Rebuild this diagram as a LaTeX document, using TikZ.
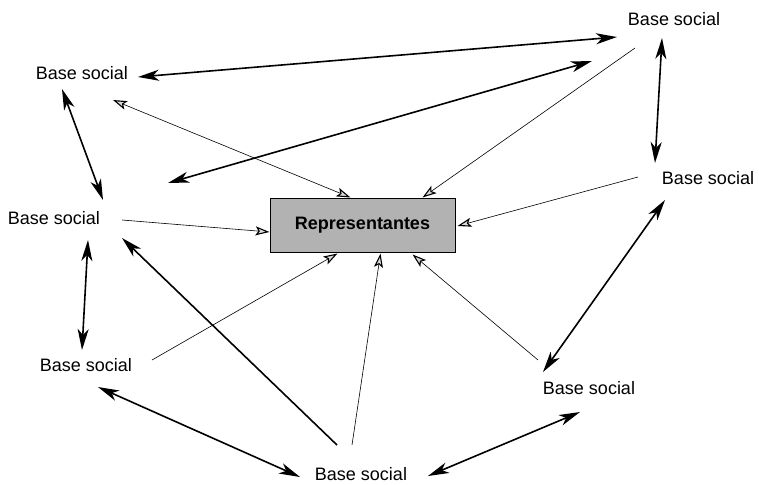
\documentclass[tikz,border=0pt]{standalone}
\usepackage{fontspec}
\setmainfont{Liberation Sans}
\usetikzlibrary{arrows.meta}
\tikzset{
  lbl/.style={inner sep=0pt, font=\fontsize{18}{20}\selectfont},
  repbox/.style={draw=black, line width=1pt, fill=black!30, minimum width=185pt, minimum height=54pt, inner sep=0pt, font=\fontsize{18}{22}\selectfont\bfseries},
  thick link/.style={line width=1.6pt, {Stealth[length=21pt,width=11pt,inset=6pt]}-{Stealth[length=21pt,width=11pt,inset=6pt]}},
  thick single/.style={line width=1.6pt, -{Stealth[length=21pt,width=11pt,inset=6pt]}},
  thin link/.style={line width=0.6pt, -{Stealth[open,length=14pt,width=9pt,inset=3pt,line width=1.1pt,fill=black!15]}},
  thin both/.style={line width=0.6pt, {Stealth[open,length=14pt,width=9pt,inset=3pt,line width=1.1pt,fill=black!15]}-{Stealth[open,length=14pt,width=9pt,inset=3pt,line width=1.1pt,fill=black!15]}}
}
\begin{document}
\begin{tikzpicture}[x=1pt,y=-1pt]
\useasboundingbox (0,0) rectangle (759,484);
% nodes
\node[repbox] (rep) at (362.5,225) {Representantes};
\node[lbl] (tl) at (82,73) {Base social};
\node[lbl] (tr) at (674,19) {Base social};
\node[lbl] (r) at (708,178) {Base social};
\node[lbl] (l) at (54,218) {Base social};
\node[lbl] (ll) at (86,365) {Base social};
\node[lbl] (lr) at (589,388) {Base social};
\node[lbl] (b) at (361,474) {Base social};
\coordinate (free) at (168,183);
% thick double links
\draw[thick link] ([shift={(56,4)}]tl.center) -- ([shift={(-57,18)}]tr.center);
\draw[thick link] (free) -- ([shift={(-82,42)}]tr.center);
\draw[thick link] ([shift={(-12,19)}]tr.center) -- ([shift={(-53,-15)}]r.center);
\draw[thick link] ([shift={(-20,16)}]tl.center) -- ([shift={(49,-18)}]l.center);
\draw[thick link] ([shift={(34,22)}]l.center) -- ([shift={(-4,-15)}]ll.center);
\draw[thick link] ([shift={(-43,22)}]r.center) -- ([shift={(-46,-16)}]lr.center);
\draw[thick link] ([shift={(12,22)}]ll.center) -- ([shift={(-61,3)}]b.center);
\draw[thick link] ([shift={(67,2)}]b.center) -- ([shift={(-9,24)}]lr.center);
\draw[thick single] ([shift={(-24,-29)}]b.center) -- ([shift={(68,20)}]l.center);
% thin links to representantes
\draw[thin both] ([shift={(31,27)}]tl.center) -- ([shift={(-12,0)}]rep.north);
\draw[thin link] ([shift={(-39,29)}]tr.center) -- ([shift={(60,0)}]rep.north);
\draw[thin link] ([shift={(-70,-1)}]r.center) -- ([shift={(2,1)}]rep.east);
\draw[thin link] ([shift={(68,2)}]l.center) -- ([shift={(0,7)}]rep.west);
\draw[thin link] ([shift={(66,-5)}]ll.center) -- ([shift={(-25,1)}]rep.south);
\draw[thin link] ([shift={(-9,-29)}]b.center) -- ([shift={(18,1)}]rep.south);
\draw[thin link] ([shift={(-51,-28)}]lr.center) -- ([shift={(50,2)}]rep.south);
\end{tikzpicture}
\end{document}
